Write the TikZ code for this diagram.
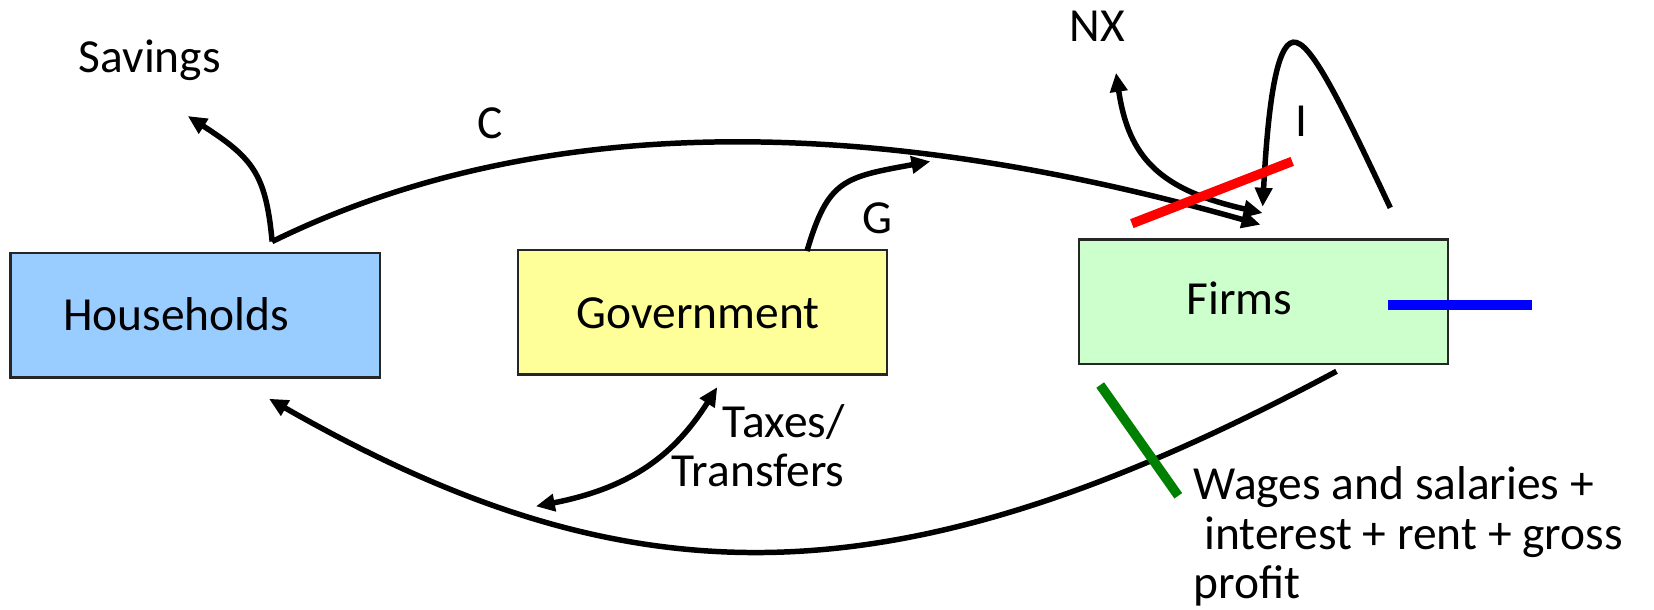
\documentclass[tikz,border=0pt]{standalone}
\usepackage{fontspec}
\setmainfont{Carlito}
\usetikzlibrary{arrows.meta}

\definecolor{hhblue}{RGB}{153,204,255}
\definecolor{govyellow}{RGB}{255,255,153}
\definecolor{firmgreen}{RGB}{204,255,204}
\definecolor{cutgreen}{RGB}{0,128,0}

\tikzset{
  sector/.style={draw=black!85, line width=1.1pt, minimum width=175pt, minimum height=59pt, inner sep=0pt},
  txt/.style={font=\fontsize{22.5}{23.5}\selectfont, inner sep=0pt},
  flow/.style={line width=2.6pt, -{Triangle[length=9pt,width=8pt]}},
  flowboth/.style={line width=2.6pt, {Triangle[length=9pt,width=8pt]}-{Triangle[length=9pt,width=8pt]}},
  cutline/.style={line width=4.5pt}
}

\begin{document}
\begin{tikzpicture}[x=0.5pt,y=0.5pt,yscale=-1,xscale=1]
\useasboundingbox (0,0) rectangle (1568,578);

%Shape: Rectangle [households]
\node[sector, fill=hhblue] (hh) at (185,299) {};
%Shape: Rectangle [government]
\node[sector, fill=govyellow] (gov) at (666,296) {};
%Shape: Rectangle [firms]
\node[sector, fill=firmgreen] (firms) at (1198,286) {};

% Text Node
\node[txt] (hhtext) at (167,298) {Households};
% Text Node
\node[txt] (govtext) at (662,297) {Government};
% Text Node
\node[txt] (firmstext) at (1175,283) {Firms};

%free ends of the flows
\coordinate (hhout) at (258,229);
\coordinate (saveend) at (178,110);
\coordinate (cend) at (1195,213);
\coordinate (gout) at (765,238);
\coordinate (gend) at (882,153);
\coordinate (nxin) at (1197,202);
\coordinate (nxend) at (1058,69);
\coordinate (iout) at (1318,197);
\coordinate (ipeak) at (1226,40);
\coordinate (iin) at (1197,196);
\coordinate (taxtop) at (680,367);
\coordinate (taxbot) at (508,480);
\coordinate (wout) at (1267,352);
\coordinate (hhin) at (255,378);

%Curve Lines [savings]
\draw[flow] (hhout) .. controls (252,165) and (240,150) .. (saveend);
%Curve Lines [consumption]
\draw[flow] (hhout) .. controls (480,120) and (780,95) .. (cend);
%Curve Lines [government spending]
\draw[flow] (gout) .. controls (785,170) and (800,168) .. (gend);
%Curve Lines [net exports]
\draw[flowboth] (nxend) .. controls (1070,150) and (1100,180) .. (nxin);
%Curve Lines [investment]
\draw[flow] (iout) .. controls (1270,95) and (1242,38) .. (ipeak) .. controls (1210,42) and (1202,100) .. (iin);
%Curve Lines [taxes and transfers]
\draw[flowboth] (taxtop) .. controls (640,430) and (600,462) .. (taxbot);
%Curve Lines [factor income]
\draw[flow] (wout) .. controls (850,575) and (600,575) .. (hhin);

%Straight Lines [cuts]
\draw[cutline, red] (1073,212) -- (1225,153);
\draw[cutline, blue] (1316,289) -- (1452,289);
\draw[cutline, cutgreen] (1043,365) -- (1117,470);

% Text Node
\node[txt] (savings) at (142,57) {Savings};
% Text Node
\node[txt] (clabel) at (465,117) {C};
% Text Node
\node[txt] (glabel) at (832,207) {G};
% Text Node
\node[txt] (nxlabel) at (1040,25) {NX};
% Text Node
\node[txt] (ilabel) at (1234,115) {I};
% Text Node
\node[txt, align=right, anchor=north east] (taxlabel) at (801,383) {Taxes/\\Transfers};
% Text Node
\node[txt, align=left, anchor=north west] (wageslabel) at (1131,442) {Wages and salaries +\\\hspace*{0.23em}interest + rent + gross\\profit};

\end{tikzpicture}
\end{document}
